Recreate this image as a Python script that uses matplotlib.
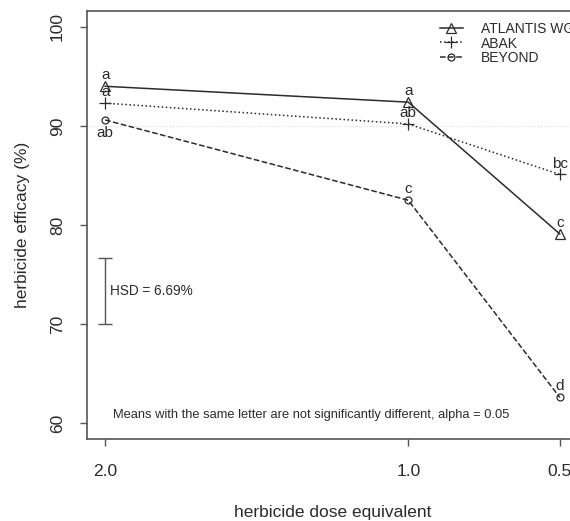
import numpy as np
import matplotlib
matplotlib.use("Agg")
from matplotlib import pyplot as plt

plt.rcParams['font.family'] = ['Liberation Sans', 'DejaVu Sans']

dose = [2.0, 1.0, 0.5]
dose_labels = ["2.0", "1.0", "0.5"]

products = ["ATLANTIS WG", "ABAK", "BEYOND"]
atlantis = [94.0, 92.4, 79.1]
abak = [92.3, 90.2, 85.1]
beyond = [90.6, 82.5, 62.6]

atlantis_letters = ["a", "a", "c"]
abak_letters = ["a", "ab", "bc"]
beyond_letters = ["ab", "c", "d"]
# +1 puts the letter above the point, -1 below
atlantis_side = [1, 1, 1]
abak_side = [1, 1, 1]
beyond_side = [-1, 1, 1]

hsd = 6.69
hsd_base = 70.0

ink = '#2b2b2b'
grey = '#555555'

fig = plt.figure(figsize=(5.70, 5.21), dpi=100)
ax = fig.add_axes([0.1526, 0.1574, 0.8614, 0.8215])

ax.axhline(90, color='#dddddd', lw=0.8, ls=':', zorder=0)

series = [
    (atlantis, '-', '^', atlantis_letters, atlantis_side, 7),
    (abak, ':', '+', abak_letters, abak_side, 9),
    (beyond, '--', 'o', beyond_letters, beyond_side, 5),
]
for (vals, ls, mk, letters, side, ms), name in zip(series, products):
    ax.plot(dose, vals, ls=ls, marker=mk, color=ink, lw=1.1, ms=ms,
            mfc='none', mec=ink, mew=0.9, label=name)
    for x, y, lab, s in zip(dose, vals, letters, side):
        if s > 0:
            ax.annotate(lab, (x, y), xytext=(0, 5), textcoords='offset points',
                        ha='center', va='baseline', fontsize=11, color=ink)
        else:
            ax.annotate(lab, (x, y), xytext=(0, -4), textcoords='offset points',
                        ha='center', va='top', fontsize=11, color=ink)

# HSD bar
ax.errorbar([2.0], [hsd_base + hsd / 2], yerr=hsd / 2, color=grey, lw=1.0,
            capsize=5, capthick=1.0)
ax.text(1.985, hsd_base + hsd / 2, "HSD = %.2f%%" % hsd, ha='left', va='center',
        fontsize=9.8, color=ink)

ax.text(1.975, 60.8, "Means with the same letter are not significantly different, alpha = 0.05",
        ha='left', va='center', fontsize=9.3, color=ink)

ax.set_xlim(2.06, 0.44)
ax.set_ylim(58.4, 101.6)
ax.set_xticks(dose)
ax.set_xticklabels(dose_labels)
ax.set_yticks([60, 70, 80, 90, 100])
ax.set_yticklabels(["60", "70", "80", "90", "100"], rotation=90, va='center')

for sp in ax.spines.values():
    sp.set_color(grey)
    sp.set_linewidth(1.2)
ax.tick_params(axis='both', length=5, width=1.0, color=grey, labelsize=12.5,
               labelcolor=ink)
ax.tick_params(axis='x', pad=13)
ax.tick_params(axis='y', pad=11)

ax.set_xlabel("herbicide dose equivalent", fontsize=12.5, color=ink, labelpad=19)
ax.set_ylabel("herbicide efficacy (%)", fontsize=12.5, color=ink, labelpad=14)

leg = ax.legend(loc='upper left', bbox_to_anchor=(0.753, 0.979),
                bbox_transform=fig.transFigure, frameon=False, fontsize=10,
                handlelength=1.6, handletextpad=1.3, labelspacing=0.05,
                handleheight=0.9, borderpad=0.3)
for t in leg.get_texts():
    t.set_color(ink)

fig.savefig("out.png", dpi=100)
